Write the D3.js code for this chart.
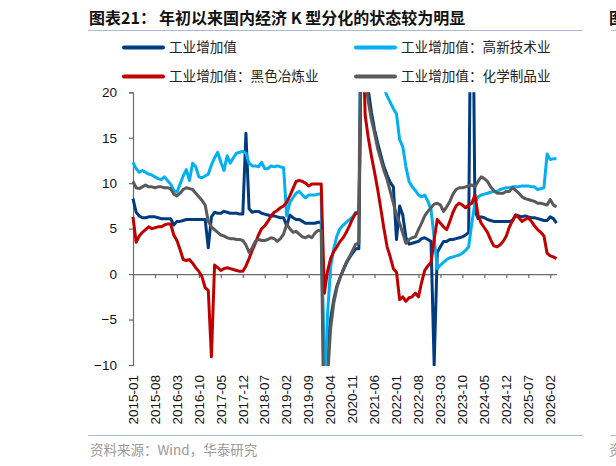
<!DOCTYPE html>
<html>
<head>
<meta charset="utf-8">
<title>工业增加值 K 型分化</title>
<script src="https://d3js.org/d3.v7.min.js"></script>
<style>
    body { margin: 0; background: #fff; }
    svg { display: block; font-family: "Liberation Sans", Arial, sans-serif; }
    .cjk { font-family: "Noto Sans CJK SC", sans-serif; }
</style>
</head>
<body>
<svg id="chart" width="616" height="466"></svg>
<script>
// monthly categories 2015-01 .. 2026-04
const months = d3.timeMonth.range(new Date(2015, 0, 1), new Date(2026, 4, 1)).map(d3.timeFormat('%Y-%m'));

const tickLabels = ['2015-01', '2015-08', '2016-03', '2016-10', '2017-05', '2017-12', '2018-07',
    '2019-02', '2019-09', '2020-04', '2020-11', '2021-06', '2022-01', '2022-08', '2023-03',
    '2023-10', '2024-05', '2024-12', '2025-07', '2026-02'];

const yTicks = [-10, -5, 0, 5, 10, 15, 20];

// 工业增加值
const industry = [
    8.3, 6.8, 6.4, 6.2, 6.2, 6.3, 6.3, 6.3, 6.2, 6.1, 6.1, 6.1,
    6.1, 5.4, 5.8, 5.8, 5.9, 6.0, 6.0, 6.0, 6.0, 6.0, 6.0, 6.0,
    2.9, 6.3, 6.8, 6.7, 6.7, 6.9, 6.8, 6.7, 6.7, 6.7, 6.6, 6.6,
    15.5, 7.2, 6.8, 6.9, 6.9, 6.7, 6.6, 6.5, 6.4, 6.4, 6.3, 6.2,
    6.2, 5.3, 6.5, 6.2, 6.0, 6.0, 5.8, 5.6, 5.6, 5.6, 5.6, 5.7,
    5.7, -13.5, -8.4, -4.9, -2.8, -1.3, -0.4, 0.4, 1.2, 1.8, 2.3, 2.8,
    2.8, 35.1, 24.5, 20.3, 17.8, 15.9, 14.4, 13.1, 11.8, 10.9, 10.1, 9.6,
    3.8, 7.5, 6.5, 4.0, 3.3, 3.4, 3.5, 3.6, 3.9, 4.0, 3.8, 3.6,
    -10.0, 2.4, 3.0, 3.6, 3.6, 3.8, 3.8, 3.9, 4.0, 4.1, 4.3, 4.6,
    45.0, 7.0, 6.1, 6.3, 6.2, 6.0, 5.9, 5.8, 5.8, 5.8, 5.8, 5.8,
    5.8, 5.9, 6.5, 6.4, 6.3, 6.4, 6.3, 6.2, 6.2, 6.1, 6.0, 5.9,
    5.9, 6.3, 6.1, 5.6
];

// 工业增加值：高新技术业
const hiTech = [
    12.3, 11.6, 11.2, 11.4, 11.2, 11.0, 10.9, 10.7, 10.5, 10.4, 10.7, 10.3,
    9.9, 9.2, 9.0, 9.9, 10.8, 11.5, 10.3, 12.2, 11.8, 10.7, 10.6, 10.8,
    11.0, 12.0, 12.8, 13.4, 12.3, 11.4, 13.0, 12.2, 12.8, 13.3, 13.4, 13.5,
    13.3, 12.2, 11.9, 11.9, 11.8, 12.3, 11.6, 11.6, 11.9, 11.8, 11.9, 11.8,
    11.7, 6.4, 7.9, 8.4, 8.9, 9.1, 8.7, 8.4, 8.7, 8.7, 8.7, 8.8,
    8.8, -14.1, -4.5, 0.8, 2.8, 4.2, 5.0, 5.4, 5.7, 6.0, 6.3, 6.8,
    6.8, 45.0, 32.0, 28.0, 25.8, 23.5, 22.0, 21.2, 20.4, 19.6, 18.9, 18.2,
    17.6, 14.8, 14.0, 11.8, 10.2, 9.6, 9.2, 8.7, 8.5, 8.7, 8.0, 7.1,
    4.0, 0.6, 1.0, 1.3, 1.6, 1.8, 1.9, 2.0, 2.1, 2.3, 2.6, 3.0,
    5.6, 7.8, 8.5, 8.7, 8.8, 8.9, 9.0, 9.1, 9.1, 9.3, 9.4, 9.5,
    9.5, 9.6, 9.6, 9.6, 9.7, 9.7, 9.7, 9.6, 9.6, 9.3, 9.4, 9.5,
    13.2, 12.6, 12.7, 12.7
];

// 工业增加值：黑色冶炼业
const ferrous = [
    6.3, 3.5, 4.2, 4.6, 4.9, 5.2, 5.0, 5.1, 5.2, 5.2, 5.4, 5.5,
    5.5, 4.3, 3.7, 2.7, 1.6, 1.5, 1.6, 1.2, 0.7, 0.3, -0.3, -1.5,
    -1.8, -9.1, 1.0, 0.7, 0.4, 0.6, 0.7, 0.6, 0.5, 0.4, 0.3, 0.3,
    0.9, 1.7, 2.6, 3.4, 4.3, 5.0, 5.3, 5.8, 6.4, 6.8, 7.0, 7.3,
    7.5, 7.9, 8.6, 9.4, 10.2, 10.3, 10.2, 10.0, 9.7, 9.9, 9.9, 9.9,
    9.9, -2.1, 0.3, 1.7, 2.5, 3.0, 3.6, 4.0, 4.6, 5.3, 6.1, 6.7,
    6.7, 30.0, 17.5, 15.0, 13.0, 11.2, 9.3, 7.2, 5.0, 3.0, 1.9, 0.6,
    0.2, -2.8, -2.5, -3.0, -2.6, -2.5, -2.1, -2.5, -0.9, 0.4, 0.9, 1.3,
    3.8, 6.0, 5.6, 5.2, 4.9, 5.8, 6.8, 7.5, 7.8, 7.6, 7.3, 7.6,
    7.8, 8.7, 6.5, 5.6, 5.1, 4.6, 3.8, 3.1, 3.0, 3.2, 3.6, 4.2,
    5.2, 5.9, 6.5, 6.2, 5.8, 6.0, 6.2, 5.8, 5.3, 4.9, 4.6, 4.2,
    2.3, 2.0, 1.9, 1.7
];

// 工业增加值：化学制品业
const chemical = [
    10.2, 9.5, 9.4, 9.6, 9.8, 9.6, 9.6, 9.5, 9.6, 9.6, 9.5, 9.5,
    9.4, 8.8, 8.6, 8.9, 9.3, 9.5, 9.4, 9.3, 8.9, 8.5, 8.1, 7.6,
    5.8, 5.2, 4.9, 4.6, 4.3, 4.2, 4.0, 3.9, 3.9, 3.8, 3.8, 3.7,
    3.2, 2.4, 2.9, 3.6, 3.8, 3.7, 3.7, 3.8, 4.0, 3.9, 3.6, 3.9,
    4.4, 5.5, 5.0, 4.6, 4.7, 4.4, 4.1, 4.0, 4.2, 4.0, 4.5, 4.8,
    4.8, -20.0, -11.5, -6.0, -3.2, -1.5, -0.4, 0.5, 1.3, 1.9, 2.6, 3.3,
    3.4, 40.0, 21.5, 19.0, 17.0, 15.5, 13.8, 12.6, 11.4, 10.4, 9.1, 7.8,
    6.5, 5.6, 4.5, 3.4, 3.8, 4.0, 4.1, 4.9, 5.6, 6.4, 6.9, 7.3,
    7.7, 7.8, 7.6, 6.9, 7.4, 8.0, 8.8, 9.3, 9.5, 9.5, 9.6, 9.7,
    9.8, 9.6, 10.2, 10.7, 10.5, 10.2, 9.6, 9.2, 8.9, 8.9, 8.9, 9.1,
    9.1, 9.5, 9.2, 8.9, 8.5, 8.3, 8.2, 8.1, 8.0, 7.8, 7.8, 7.7,
    7.6, 8.2, 7.6, 7.4
];

const series = [
    { name: '工业增加值', values: industry, color: '#003b7f' },
    { name: '工业增加值：高新技术业', values: hiTech, color: '#00b0f0' },
    { name: '工业增加值：黑色冶炼业', values: ferrous, color: '#c00000' },
    { name: '工业增加值：化学制品业', values: chemical, color: '#5a5a5a' }
];

const svg = d3.select('#chart');
const plotLeft = 133, plotRight = 556.5, plotTop = 92.3, plotBottom = 365;

const x = d3.scalePoint().domain(months).range([plotLeft, plotRight]);
const y = d3.scaleLinear().domain([-10, 20]).range([plotBottom, plotTop]);

// title + rules
svg.append('text').attr('class', 'cjk')
    .attr('x', 89).attr('y', 24)
    .attr('font-size', 16).attr('font-weight', 'bold').attr('fill', '#111')
    .text('图表21：');
svg.append('text').attr('class', 'cjk')
    .attr('x', 159).attr('y', 24)
    .attr('font-size', 16).attr('font-weight', 'bold').attr('fill', '#111')
    .text('年初以来国内经济 K 型分化的状态较为明显');
svg.append('text').attr('class', 'cjk')
    .attr('x', 609).attr('y', 24)
    .attr('font-size', 16).attr('font-weight', 'bold').attr('fill', '#111')
    .text('图');
[[88, 583], [611, 616]].forEach(([a, b]) => {
    svg.append('line').attr('x1', a).attr('x2', b).attr('y1', 30.5).attr('y2', 30.5)
        .attr('stroke', '#a9bccf').attr('stroke-width', 1);
    svg.append('line').attr('x1', a).attr('x2', b).attr('y1', 435.5).attr('y2', 435.5)
        .attr('stroke', '#a9bccf').attr('stroke-width', 1);
});

// legend
const legendPos = [[124, 47.5], [356, 47.5], [124, 76.5], [356, 76.5]];
series.forEach((s, i) => {
    const [lx, ly] = legendPos[i];
    svg.append('line').attr('x1', lx).attr('x2', lx + 39).attr('y1', ly).attr('y2', ly)
        .attr('stroke', s.color).attr('stroke-width', 4).attr('stroke-linecap', 'round');
    svg.append('text').attr('class', 'cjk')
        .attr('x', lx + 45).attr('y', ly).attr('dy', '0.36em')
        .attr('font-size', 13.6).attr('fill', '#222')
        .text(s.name);
});

// y axis
const yAxis = svg.append('g')
    .attr('transform', `translate(${plotLeft},0)`)
    .call(d3.axisLeft(y).tickValues(yTicks).tickSize(4).tickPadding(12).tickFormat(d3.format('d')));
yAxis.select('.domain').attr('stroke', '#6b6b6b').attr('stroke-width', 1.2);
yAxis.selectAll('.tick line').attr('stroke', '#6b6b6b').attr('stroke-width', 1.2);
yAxis.selectAll('.tick text').attr('font-size', 13.5).attr('fill', '#111')
    .attr('font-family', '"Liberation Sans", Arial, sans-serif');

// x axis on the zero line, ticks only
const xAxis = svg.append('g')
    .attr('transform', `translate(0,${y(0)})`)
    .call(d3.axisBottom(x).tickValues(tickLabels).tickSize(4).tickSizeOuter(0).tickFormat(''));
xAxis.select('.domain').attr('stroke', '#6b6b6b').attr('stroke-width', 1.2);
xAxis.selectAll('.tick line').attr('stroke', '#6b6b6b').attr('stroke-width', 1.2);

// x labels at the bottom, rotated
svg.append('g').selectAll('text')
    .data(tickLabels)
    .join('text')
    .attr('transform', d => `translate(${x(d)},375) rotate(-90)`)
    .attr('dy', '0.35em')
    .attr('text-anchor', 'end')
    .attr('font-size', 13.5)
    .attr('fill', '#111')
    .text(d => d);

// lines
svg.append('clipPath').attr('id', 'plot-clip')
    .append('rect').attr('x', plotLeft - 2).attr('y', plotTop)
    .attr('width', plotRight - plotLeft + 4).attr('height', plotBottom - plotTop + 1);

const line = d3.line()
    .x((d, i) => x(months[i]))
    .y(d => y(d));

svg.append('g').attr('clip-path', 'url(#plot-clip)')
    .selectAll('path')
    .data(series)
    .join('path')
    .attr('d', d => line(d.values))
    .attr('fill', 'none')
    .attr('stroke', d => d.color)
    .attr('stroke-width', 3)
    .attr('stroke-linejoin', 'round');

// source
svg.append('text').attr('class', 'cjk')
    .attr('x', 90).attr('y', 455)
    .attr('font-size', 13.5).attr('fill', '#9a9a9a')
    .text('资料来源：Wind，华泰研究');
svg.append('text').attr('class', 'cjk')
    .attr('x', 609).attr('y', 455)
    .attr('font-size', 13.5).attr('fill', '#9a9a9a')
    .text('资');
</script>
</body>
</html>
